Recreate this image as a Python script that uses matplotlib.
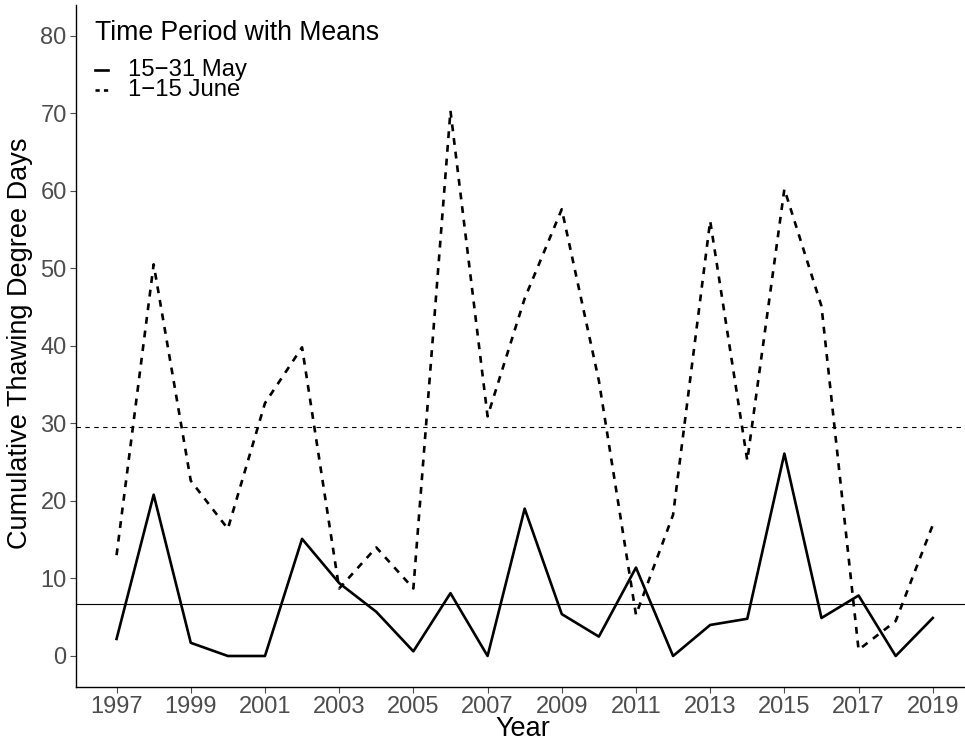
import matplotlib
matplotlib.use("Agg")
import matplotlib.pyplot as plt
from matplotlib.lines import Line2D
import numpy as np

years = list(range(1997, 2020))
may_tdd = [2.2, 20.8, 1.7, 0.0, 0.0, 15.1, 9.4, 5.7, 0.6, 8.1, 0.0, 19.0,
           5.4, 2.5, 11.4, 0.0, 4.0, 4.8, 26.1, 4.9, 7.8, 0.0, 4.9]
june_tdd = [13.0, 50.5, 22.6, 16.4, 32.6, 39.8, 8.7, 14.0, 8.7, 70.3, 30.9, 46.1,
            57.6, 35.5, 5.3, 18.2, 56.1, 25.2, 60.2, 45.1, 0.8, 4.5, 16.9]
x_ticks = list(range(1997, 2020, 2))
y_ticks = [0, 10, 20, 30, 40, 50, 60, 70, 80]
legend_title = "Time Period with Means"
series_labels = ["15\u221231 May", "1\u221215 June"]

plt.rcParams["font.family"] = ["Liberation Sans", "DejaVu Sans"]

fig = plt.figure(figsize=(9.65, 7.42), dpi=100)
ax = fig.add_axes([0.0785, 0.0741, 0.9304, 0.9198])

dash = (0, (2.6, 2.6))
ax.plot(years, may_tdd, color="black", lw=1.9)
ax.plot(years, june_tdd, color="black", lw=1.9, ls=dash)
ax.axhline(np.mean(may_tdd), color="black", lw=0.8)
ax.axhline(np.mean(june_tdd), color="black", lw=0.8, ls=(0, (4, 4)))

ax.set_xlim(1995.9, 2020.1)
ax.set_ylim(-4, 84)
ax.set_xticks(x_ticks)
ax.set_yticks(y_ticks)
ax.tick_params(colors="#4D4D4D", labelsize=17, length=4.5, width=0.8, pad=2)
for s in ("top", "right"):
    ax.spines[s].set_visible(False)
for s in ("left", "bottom"):
    ax.spines[s].set_linewidth(1.0)

ax.set_xlabel("Year", fontsize=19.5)
ax.xaxis.set_label_coords(0.498, -0.0425)
ax.set_ylabel("Cumulative Thawing Degree Days", fontsize=19.5)
ax.yaxis.set_label_coords(-0.0475, 0.504)

# legend drawn by hand so the title/key spacing follows ggplot's layout
W, H = 965, 742
fig.text(95 / W, 1 - 33 / H, legend_title, fontsize=19.2, ha="left", va="center")
key_styles = [dict(ls="-"), dict(ls=(0, (1.6, 1.6)))]
for i, (lab, st) in enumerate(zip(series_labels, key_styles)):
    yk = 1 - (70 + 20 * i) / H
    fig.add_artist(Line2D([95 / W, 108 / W], [yk, yk], color="black", lw=1.9,
                          transform=fig.transFigure, **st))
    fig.text(128 / W, yk, lab, fontsize=17.2, ha="left", va="center")

fig.savefig("out.png", dpi=100)
